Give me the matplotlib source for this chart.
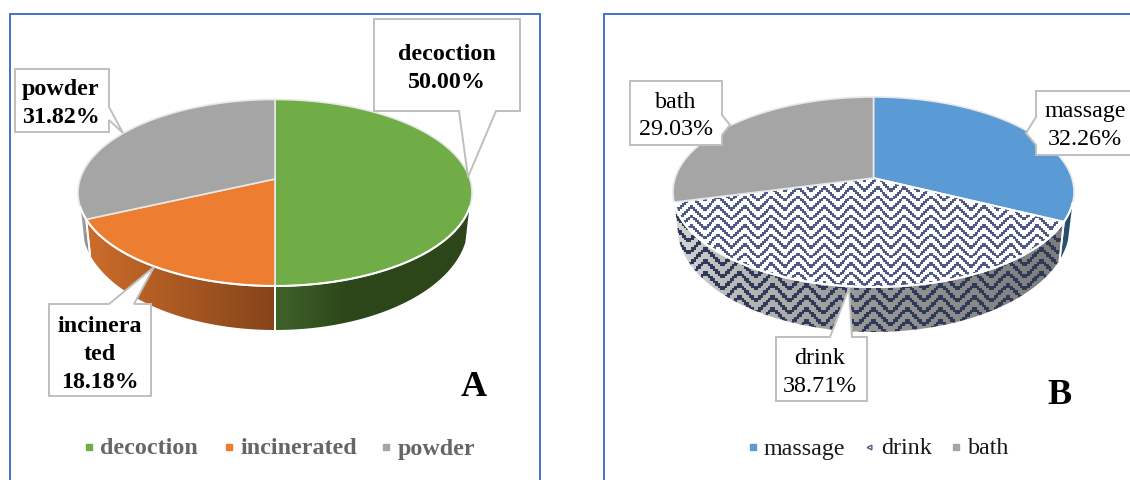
import numpy as np
import matplotlib
matplotlib.use("Agg")
import matplotlib.pyplot as plt
from matplotlib.patches import Polygon, Rectangle
from matplotlib.colors import to_rgb

plt.rcParams["font.family"] = ["Liberation Serif", "DejaVu Serif"]

# Panel A: preparation form
forms = ["decoction", "incinerated", "powder"]
form_shares = [50.00, 18.18, 31.82]
form_colors = ["#70AD47", "#ED7D31", "#A5A5A5"]
form_label_lines = [["decoction"], ["incinera", "ted"], ["powder"]]

# Panel B: route of use
routes = ["massage", "drink", "bath"]
route_shares = [32.26, 38.71, 29.03]
route_colors = ["#5B9BD5", None, "#A5A5A5"]
route_label_lines = [["massage"], ["drink"], ["bath"]]

INK = "#4F5985"
EDGE = "#BFBFBF"
FRAME = "#4472C4"

fig = plt.figure(figsize=(11.30, 4.80), dpi=100)
ax = fig.add_axes([0, 0, 1, 1])
ax.set_axis_off()


class Pie:
    """Tilted cylinder pie projected with a single-axis perspective."""

    def __init__(self, cx, apex_y, top, bottom, half_w, low_half_w, low_cy, low_ry, rim_cut):
        self.cx, self.apex_y = cx, apex_y
        self.top, self.bottom = top, bottom
        self.k = (2 * apex_y - top - bottom) / (bottom - top)
        self.b = bottom * (1 + self.k) - apex_y
        self.a = half_w * np.sqrt(1 - self.k ** 2)
        self.scale_x = low_half_w / half_w
        self.low_cy, self.low_ry = low_cy, low_ry
        self.mid = (top + bottom) / 2
        self.half_h = (bottom - top) / 2
        self.rim_cut = rim_cut

    def rim(self, t):
        u, v = np.sin(t), -np.cos(t)
        d = 1 + self.k * v
        return self.cx + self.a * u / d, (self.apex_y + self.b * v) / d

    def lower(self, t):
        x, y = self.rim(t)
        return (self.cx + (x - self.cx) * self.scale_x,
                self.low_cy + self.low_ry * (y - self.mid) / self.half_h)


def pattern_mask(X, Y, cell, period=14, spacing=5):
    # Stepped zigzag rows; each stroke spans two columns so the stairs stay connected
    col = np.floor(X / cell).astype(int)
    row = np.floor(Y / cell).astype(int)
    tri = np.abs(col % period - period // 2)
    tri_next = np.abs((col + 1) % period - period // 2)
    return ((row + tri) % spacing == 0) | ((row + tri_next) % spacing == 0)


def fill_region(verts, stops_x, stops_c, cell=None, ink=INK):
    """Paint a polygon with a left-to-right colour ramp, optionally with the woven ink."""
    verts = np.asarray(verts)
    x0, y0 = np.floor(verts.min(axis=0)).astype(int)
    x1, y1 = np.ceil(verts.max(axis=0)).astype(int)
    xs = np.arange(x0, x1) + 0.5
    ys = np.arange(y0, y1) + 0.5
    X, Y = np.meshgrid(xs, ys)
    rgb = [to_rgb(c) for c in stops_c]
    img = np.dstack([np.interp(X, stops_x, [c[i] for c in rgb]) for i in range(3)])
    if cell:
        mask = pattern_mask(X, Y, cell)
        img[mask] = to_rgb(ink)
    im = ax.imshow(img, extent=(x0, x1, y1, y0), aspect="auto", interpolation="bilinear", zorder=2)
    clip = Polygon(verts, closed=True, transform=ax.transData, facecolor="none", edgecolor="none")
    ax.add_patch(clip)
    im.set_clip_path(clip)


def draw_pie(pie, shares, colors, side_ramps, top_cell=None, side_cell=None):
    edges = np.radians(np.cumsum([0] + list(shares)) * 3.6)
    # Walls go first so the top faces sit over them
    for i, (t0, t1) in enumerate(zip(edges[:-1], edges[1:])):
        t = np.linspace(t0, t1, 240)
        rx, ry = pie.rim(t)
        keep = ry >= pie.rim_cut
        if keep.sum() < 2:
            continue
        t = t[keep]
        rx, ry = pie.rim(t)
        lx, ly = pie.lower(t)
        verts = np.column_stack([np.r_[rx, lx[::-1]], np.r_[ry, ly[::-1]]])
        stops_x, stops_c = side_ramps[i]
        cell = side_cell if colors[i] is None else None
        fill_region(verts, stops_x, stops_c, cell=cell, ink="#2F3958")
        for end in (t0, t1):
            if pie.rim(end)[1] >= pie.rim_cut:
                ex, ey = pie.rim(end)
                bx, by = pie.lower(end)
                ax.plot([ex, bx], [ey, by], color="white", lw=1.3, zorder=3)
    for i, (t0, t1) in enumerate(zip(edges[:-1], edges[1:])):
        t = np.linspace(t0, t1, 240)
        rx, ry = pie.rim(t)
        verts = np.column_stack([np.r_[pie.cx, rx], np.r_[pie.apex_y, ry]])
        if colors[i] is None:
            fill_region(verts, [0, 1], ["white", "white"], cell=top_cell)
            ax.add_patch(Polygon(verts, closed=True, facecolor="none", edgecolor="white", lw=1.4, zorder=4))
        else:
            ax.add_patch(Polygon(verts, closed=True, facecolor=colors[i], edgecolor="#E8E8E8", lw=1.2, zorder=4))
    # Bright lip along the front of the top face
    t = np.linspace(edges[0], edges[-1], 720)
    rx, ry = pie.rim(t)
    front = ry >= pie.rim_cut
    ax.plot(rx[front], ry[front], color="white", lw=1.5, zorder=5)


def callout(verts, lines, x, y, bold):
    ax.add_patch(Polygon(verts, closed=True, facecolor="white", edgecolor=EDGE, lw=1.4, zorder=6, joinstyle="miter"))
    for n, line in enumerate(lines):
        ax.text(x, y + 2 + n * 27.5, line, ha="center", va="center", fontsize=17.3, color="black",
                fontweight="bold" if bold else "normal", zorder=7)


def legend_row(marks, names, colors, text_x, y, text_color, bold):
    for mx, tx, name, color in zip(marks, text_x, names, colors):
        if color is None:
            ax.plot([mx], [y], marker="<", ms=3.4, mfc="white", mec=INK, mew=1.0, ls="none", zorder=7)
        else:
            ax.plot([mx], [y], marker="s", ms=5.0, color=color, ls="none", zorder=7)
        ax.text(tx, y + 2, name, ha="left", va="center", fontsize=17.3, color=text_color,
                fontweight="bold" if bold else "normal", zorder=7)


# Panel frames run off the lower and right sides of the figure
ax.add_patch(Rectangle((9.5, 14), 530.5, 480, facecolor="white", edgecolor=FRAME, lw=1.4, zorder=1))
ax.add_patch(Rectangle((604, 14), 540, 480, facecolor="white", edgecolor=FRAME, lw=1.4, zorder=1))

pie_a = Pie(275, 179, 99.5, 286, 197, 193, 225, 105, 207)
ramps_a = [
    ([275, 350, 470], ["#40632A", "#2C4519", "#2C4519"]),
    ([88, 275], ["#CC6C2B", "#85441A"]),
    ([78, 90], ["#B8BCBE", "#7E8285"]),
]
draw_pie(pie_a, form_shares, form_colors, ramps_a)

pie_b = Pie(873.5, 178, 97, 287, 200.5, 196, 227, 105, 203)
ramps_b = [
    ([1062, 1074], ["#2A5578", "#1D4362"]),
    ([675, 720, 850, 1065], ["#D6D6D6", "#BEBEBE", "#9A9A9A", "#7C7C7C"]),
    ([670, 680], ["#A5A5A5", "#A5A5A5"]),
]
draw_pie(pie_b, route_shares, route_colors, ramps_b, top_cell=1.9, side_cell=2.4)

# Callouts, panel A
pct_a = [f"{s:.2f}%" for s in form_shares]
callout([(374, 19), (520, 19), (520, 111), (496, 111), (468, 177), (459, 111), (374, 111)],
        form_label_lines[0] + [pct_a[0]], 447, 53, True)
callout([(49, 304), (109, 304), (154, 267), (134, 304), (151, 304), (151, 396), (49, 396)],
        form_label_lines[1] + [pct_a[1]], 100, 325, True)
callout([(15, 69), (109, 69), (109, 107), (123, 133), (109, 120), (109, 132), (15, 132)],
        form_label_lines[2] + [pct_a[2]], 61, 88, True)

# Callouts, panel B
pct_b = [f"{s:.2f}%" for s in route_shares]
callout([(1036, 91), (1133, 91), (1133, 155), (1036, 155), (1036, 145), (1026, 133), (1036, 117)],
        route_label_lines[0] + [pct_b[0]], 1085, 110, False)
callout([(776, 337), (830, 337), (849, 288), (852, 337), (867, 337), (867, 401), (776, 401)],
        route_label_lines[1] + [pct_b[1]], 820, 357, False)
callout([(630, 81), (722, 81), (722, 115), (730, 125), (722, 135), (722, 145), (630, 145)],
        route_label_lines[2] + [pct_b[2]], 676, 100, False)

ax.text(474, 387.5, "A", ha="center", va="center", fontsize=26, fontweight="bold", color="black", zorder=7)
ax.text(1060, 395.5, "B", ha="center", va="center", fontsize=26, fontweight="bold", color="black", zorder=7)

legend_row([89, 229, 386], forms, form_colors, [100, 240, 398], 447, "#666666", True)
legend_row([753, 869, 956], routes, route_colors, [764, 881, 968], 447, "#1A1A1A", False)

ax.set_xlim(0, 1130)
ax.set_ylim(480, 0)
fig.savefig("out.png", dpi=100, facecolor="white")
